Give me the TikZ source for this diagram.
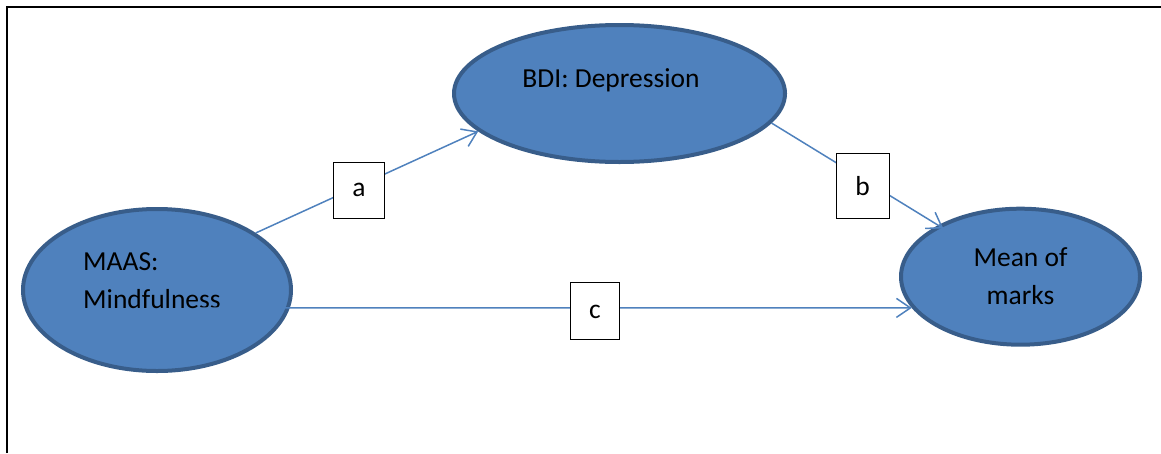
\documentclass[tikz,border=0pt]{standalone}
\usepackage{fontspec}
\setmainfont{Carlito}
\usetikzlibrary{shapes.geometric,arrows.meta}
\definecolor{ofill}{HTML}{4F81BD}
\definecolor{oline}{HTML}{385D8A}
\begin{document}
\begin{tikzpicture}[x=1pt,y=-1pt,
  latent/.style={ellipse,draw=oline,fill=ofill,line width=4pt,inner sep=0pt},
  conn/.style={draw=ofill,line width=1.5pt,-{Straight Barb[length=14pt,width=19pt]}},
  lbl/.style={draw=black,fill=white,line width=1pt,font=\fontsize{27.5}{33}\selectfont,inner sep=0pt},
  txt/.style={font=\fontsize{27.5}{38}\selectfont,inner sep=0pt}]
\useasboundingbox (0,0) rectangle (1161,453);
\draw[line width=2pt] (7,453) -- (7,7) -- (1161,7);
% latent variables
\node[latent,minimum width=268pt,minimum height=162pt] (maas) at (157,290) {};
\node[latent,minimum width=331pt,minimum height=137pt] (bdi) at (619.5,93.5) {};
\node[latent,minimum width=239pt,minimum height=136pt] (mean) at (1020.5,276.7) {};
% texts
\node[txt,anchor=base west,align=left] (maastxt) at (83,308) {MAAS:\\Mindfulness};
\node[txt,anchor=base] (bditxt) at (611,87) {BDI: Depression};
\node[txt,anchor=base,align=center] (meantxt) at (1020.5,304) {Mean of\\marks};
% paths
\coordinate (cstart) at (200,308);
\draw[conn] (maas.30.6) -- node[lbl,pos=0.464,yshift=-4.4pt,minimum width=51pt,minimum height=56pt] (a) {a} (bdi.195.5);
\draw[conn,shorten >=-6pt] (bdi.349.8) -- node[lbl,pos=0.546,yshift=-7pt,minimum width=53pt,minimum height=65pt] (b) {b} (mean.148.9);
\draw[conn] (cstart) -- node[lbl,pos=0.555,yshift=-3.5pt,minimum width=49pt,minimum height=57pt] (c) {c} (mean.196.1);
\end{tikzpicture}
\end{document}
